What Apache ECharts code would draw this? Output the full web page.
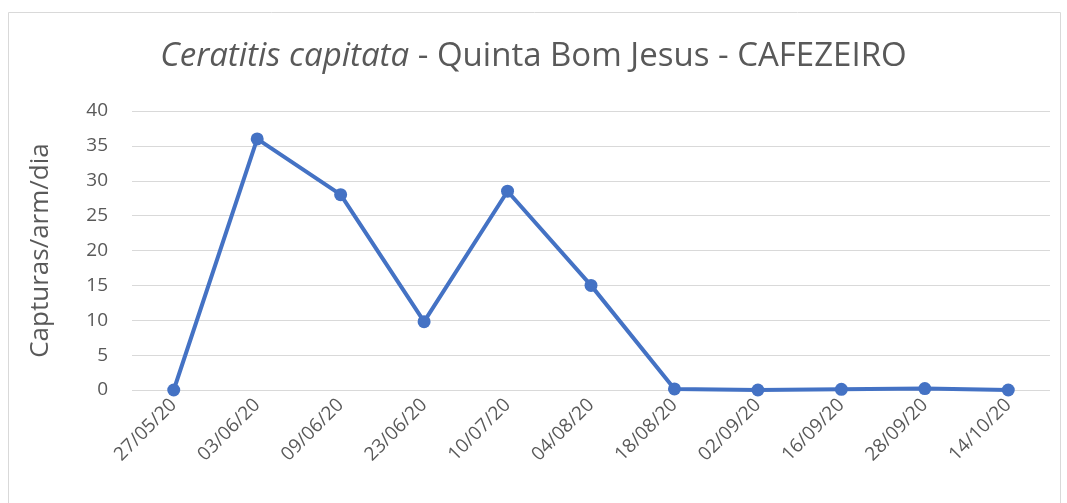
<!DOCTYPE html>
<html>
<head>
<meta charset="utf-8">
<script src="https://cdn.jsdelivr.net/npm/echarts@6/dist/echarts.min.js"></script>
<style>
  html, body { margin: 0; padding: 0; background: #fff; }
  #chart-box { width: 1067px; height: 503px; }
</style>
</head>
<body>
<div id="chart-box"></div>
<script>
// datas das capturas
const dateLabels = ['27/05/20', '03/06/20', '09/06/20', '23/06/20', '10/07/20', '04/08/20', '18/08/20', '02/09/20', '16/09/20', '28/09/20', '14/10/20'];
// capturas/armadilha/dia
const captureValues = [0, 36, 28, 9.8, 28.5, 15, 0.15, 0, 0.1, 0.2, 0];

const axisColor = '#595959';
const lineColor = '#4472C4';

const chartObj = echarts.init(document.getElementById('chart-box'));
const option = {
  animation: false,
  graphic: [
    {
      type: 'rect',
      shape: { x: 8.5, y: 12.5, width: 1052, height: 520 },
      style: { fill: 'none', stroke: '#d9d9d9', lineWidth: 1 }
    }
  ],
  title: {
    left: 'center',
    top: 35,
    text: '{it|Ceratitis capitata}{rg| - Quinta Bom Jesus - CAFEZEIRO}',
    textStyle: {
      fontWeight: 'normal',
      rich: {
        it: { fontFamily: 'Open Sans', fontStyle: 'italic', fontWeight: 'normal', fontSize: 33, color: axisColor },
        rg: { fontFamily: 'Open Sans', fontWeight: 'normal', fontSize: 33, color: axisColor }
      }
    }
  },
  grid: {
    left: 132,
    right: 17,
    top: 111,
    bottom: 113
  },
  xAxis: {
    type: 'category',
    data: dateLabels,
    boundaryGap: true,
    axisLine: { show: false },
    axisTick: { show: false },
    axisLabel: {
      rotate: 45,
      color: axisColor,
      fontFamily: 'Open Sans',
      fontSize: 19,
      margin: 12
    }
  },
  yAxis: {
    type: 'value',
    min: 0,
    max: 40,
    interval: 5,
    name: 'Capturas/arm/dia',
    nameLocation: 'middle',
    nameGap: 78,
    nameTextStyle: { color: axisColor, fontFamily: 'Open Sans', fontSize: 26 },
    axisLine: { show: false },
    axisTick: { show: false },
    axisLabel: { color: axisColor, fontFamily: 'Open Sans', fontSize: 19, margin: 24 },
    splitLine: { lineStyle: { color: '#d9d9d9', width: 1 } }
  },
  series: [
    {
      type: 'line',
      data: captureValues,
      symbol: 'circle',
      symbolSize: 13,
      lineStyle: { color: lineColor, width: 4 },
      itemStyle: { color: lineColor }
    }
  ]
};
chartObj.setOption(option);
</script>
</body>
</html>
